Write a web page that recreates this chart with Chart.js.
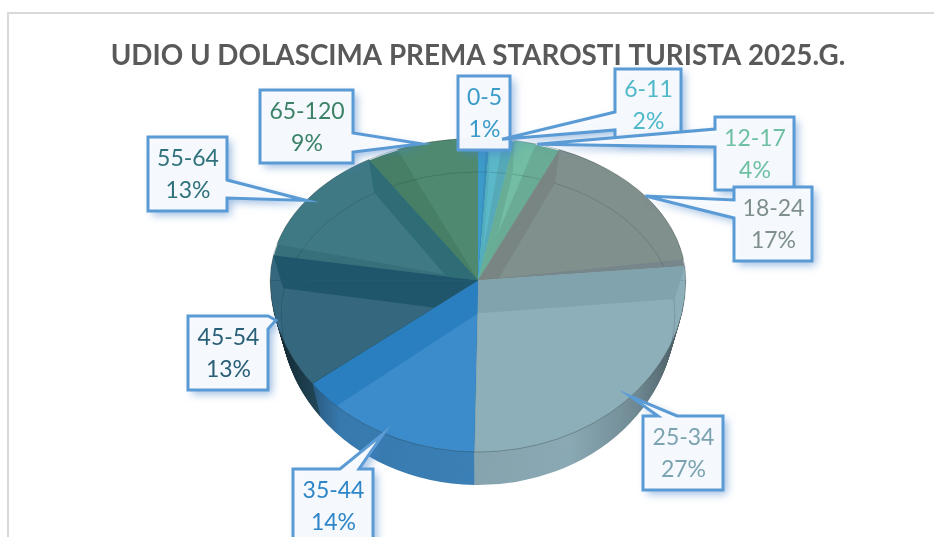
<!DOCTYPE html>
<html>
<head>
<meta charset="utf-8">
<style>
  html, body { margin: 0; padding: 0; background: #fff; overflow: hidden; }
  #frame { position: absolute; left: 7px; top: 12px; width: 927px; height: 525px; border-left: 2px solid #d9d9d9; border-top: 2px solid #d9d9d9; box-sizing: border-box; }
  #wrap { position: absolute; left: 0; top: 0; width: 934px; height: 537px; }
</style>
</head>
<body>
<div id="frame"></div>
<div id="wrap"><canvas id="agePie"></canvas></div>
<script src="https://cdn.jsdelivr.net/npm/chart.js@4/dist/chart.umd.min.js"></script>
<script>
const titleText = 'UDIO U DOLASCIMA PREMA STAROSTI TURISTA 2025.G.';
const ageGroups = ['0-5', '6-11', '12-17', '18-24', '25-34', '35-44', '45-54', '55-64', '65-120'];
const shares = [0.9, 1.9, 3.6, 17.0, 26.9, 14.4, 13.1, 13.4, 8.8];

// slice styles
const faceColors = ['#3d9bc9', '#5bb8c8', '#72bda4', '#80908c', '#8dafba', '#3c8ccb', '#35687e', '#3f7a84', '#4f8a70'];
const wallColors = ['#3592c0', '#52adbd', '#68ad96', '#798582', '#80a3ae', '#2a7fc0', '#1f566c', '#2e6c76', '#488067'];
const sideColors = ['#3a8fbb', '#55a9b8', '#6aab95', '#76868a', '#8aa9b4', '#3d84bc', '#2f6078', '#37707a', '#477e66'];
const textColors = ['#3a9bc9', '#4fb8c9', '#6fc0a3', '#7f8f8e', '#7ba3b0', '#2e86c8', '#2a5f78', '#2f727c', '#3b8266'];

// callout boxes: x, y, w, h, side the pointer leaves from, and where on that side it starts/ends
const callouts = [
  { x: 458, y: 76, w: 52, h: 74 },
  { x: 615, y: 69, w: 66, h: 72, side: 'left', a: 112, b: 130 },
  { x: 715, y: 117, w: 79, h: 73, side: 'left', a: 129, b: 147 },
  { x: 734, y: 187, w: 78, h: 74, side: 'left', a: 200, b: 218 },
  { x: 643, y: 416, w: 80, h: 74, side: 'top', a: 658, b: 677 },
  { x: 293, y: 469, w: 80, h: 74, side: 'top', a: 340, b: 359 },
  { x: 188, y: 316, w: 80, h: 74, side: 'right', a: 316, b: 329 },
  { x: 148, y: 137, w: 79, h: 74, side: 'right', a: 180, b: 198 },
  { x: 260, y: 90, w: 93, h: 73, side: 'right', a: 133, b: 152 }
];

const DEPTH = 33;
const SQUASH_BACK = 142 / 208;
const SQUASH_FRONT = 172 / 208;
const FLOOR_SCALE = 198 / 208;

function narrowAt(depth) {
  return 1 - (1 - FLOOR_SCALE) * depth / DEPTH;
}

// the pie is tilted: back half is flatter than the front half (fake perspective)
function eachHalf(ctx, chart, cx, cy, depth, fn) {
  const nx = narrowAt(depth);
  [[-1, SQUASH_BACK], [1, SQUASH_FRONT]].forEach(([dir, squash]) => {
    ctx.save();
    ctx.beginPath();
    if (dir < 0) ctx.rect(0, 0, chart.width, cy + depth);
    else ctx.rect(0, cy + depth, chart.width, chart.height);
    ctx.clip();
    ctx.translate(cx, cy + depth);
    ctx.scale(nx, squash);
    ctx.translate(-cx, -cy);
    fn();
    ctx.restore();
  });
}

function rimPoint(el, angle, depth) {
  const sin = Math.sin(angle);
  const nx = narrowAt(depth);
  return {
    x: el.x + Math.cos(angle) * el.outerRadius * nx,
    y: el.y + depth + sin * el.outerRadius * (sin < 0 ? SQUASH_BACK : SQUASH_FRONT)
  };
}

function paintArc(ctx, el, color) {
  const opts = el.options;
  el.options = Object.assign({}, opts, { backgroundColor: color, borderWidth: 0 });
  el.draw(ctx);
  el.options = opts;
}

// inner wall along one radial edge, seen through the glass top
function paintWall(ctx, el, angle, color) {
  const top = rimPoint(el, angle, 0);
  const low = rimPoint(el, angle, DEPTH);
  ctx.beginPath();
  ctx.moveTo(el.x, el.y);
  ctx.lineTo(top.x, top.y);
  ctx.lineTo(low.x, low.y);
  ctx.lineTo(el.x, el.y + DEPTH);
  ctx.closePath();
  ctx.fillStyle = color;
  ctx.fill();
}

const pie3d = {
  id: 'pie3d',
  beforeDatasetDraw(chart, args) {
    const ctx = chart.ctx;
    const arcs = args.meta.data;
    const cx = arcs[0].x, cy = arcs[0].y, R = arcs[0].outerRadius;

    // side wall
    for (let d = DEPTH; d > 0; d--) {
      eachHalf(ctx, chart, cx, cy, d, () => arcs.forEach((el, i) => paintArc(ctx, el, sideColors[i])));
    }
    ctx.save();
    ctx.globalCompositeOperation = 'source-atop';
    const shade = ctx.createLinearGradient(cx - R, 0, cx + R, 0);
    shade.addColorStop(0, 'rgba(0,0,0,0.65)');
    shade.addColorStop(0.17, 'rgba(0,0,0,0.08)');
    shade.addColorStop(0.72, 'rgba(0,0,0,0)');
    shade.addColorStop(0.88, 'rgba(0,0,0,0.18)');
    shade.addColorStop(1, 'rgba(0,0,0,0.5)');
    ctx.fillStyle = shade;
    ctx.fillRect(cx - R - 2, cy, 2 * R + 4, R);
    ctx.restore();

    // top face, with the walls and floor edge showing through it
    arcs.forEach((el, i) => {
      eachHalf(ctx, chart, cx, cy, 0, () => {
        ctx.beginPath();
        ctx.moveTo(cx, cy);
        ctx.arc(cx, cy, R, el.startAngle, el.endAngle);
        ctx.closePath();
        ctx.clip();
        ctx.save();
        ctx.setTransform(1, 0, 0, 1, 0, 0);
        paintArc(ctx, el, faceColors[i]);
        paintWall(ctx, el, el.startAngle, wallColors[i]);
        paintWall(ctx, el, el.endAngle, wallColors[i]);
        eachHalf(ctx, chart, cx, cy, DEPTH, () => {
          ctx.beginPath();
          ctx.arc(cx, cy, R - 1, el.startAngle, el.endAngle);
          ctx.strokeStyle = 'rgba(0,0,0,0.16)';
          ctx.lineWidth = 1;
          ctx.stroke();
        });
        ctx.restore();
      });
    });

    // rim
    eachHalf(ctx, chart, cx, cy, 0, () => {
      ctx.beginPath();
      ctx.arc(cx, cy, R, 0, Math.PI * 2);
      ctx.strokeStyle = 'rgba(40,50,50,0.35)';
      ctx.lineWidth = 1;
      ctx.stroke();
    });
    return false;
  },
  afterDatasetsDraw(chart) {
    const ctx = chart.ctx;
    const arcs = chart.getDatasetMeta(0).data;
    arcs.forEach((el, i) => {
      const box = callouts[i];
      const tip = rimPoint(el, (el.startAngle + el.endAngle) / 2, 0);

      ctx.save();
      ctx.beginPath();
      ctx.moveTo(box.x, box.y);
      if (box.side === 'top') { ctx.lineTo(box.a, box.y); ctx.lineTo(tip.x, tip.y); ctx.lineTo(box.b, box.y); }
      ctx.lineTo(box.x + box.w, box.y);
      if (box.side === 'right') { ctx.lineTo(box.x + box.w, box.a); ctx.lineTo(tip.x, tip.y); ctx.lineTo(box.x + box.w, box.b); }
      ctx.lineTo(box.x + box.w, box.y + box.h);
      ctx.lineTo(box.x, box.y + box.h);
      if (box.side === 'left') { ctx.lineTo(box.x, box.b); ctx.lineTo(tip.x, tip.y); ctx.lineTo(box.x, box.a); }
      ctx.closePath();
      ctx.shadowColor = 'rgba(70,130,200,0.55)';
      ctx.shadowBlur = 9;
      ctx.shadowOffsetX = 4;
      ctx.shadowOffsetY = 4;
      ctx.fillStyle = 'rgba(248,250,254,0.97)';
      ctx.fill();
      ctx.shadowColor = 'transparent';
      ctx.strokeStyle = '#5b9bd5';
      ctx.lineWidth = 3;
      ctx.lineJoin = 'miter';
      ctx.stroke();

      ctx.fillStyle = textColors[i];
      ctx.font = '23px Lato';
      ctx.textAlign = 'center';
      ctx.textBaseline = 'middle';
      const tx = box.x + box.w / 2 + 0.5;
      const ty = box.y + box.h / 2;
      ctx.fillText(ageGroups[i], tx, ty - 15);
      ctx.fillText(Math.round(shares[i]) + '%', tx, ty + 17);
      ctx.restore();
    });
  }
};

new Chart(document.getElementById('agePie').getContext('2d'), {
  type: 'pie',
  data: {
    labels: ageGroups,
    datasets: [{
      data: shares,
      backgroundColor: faceColors,
      borderWidth: 0
    }]
  },
  options: {
    responsive: true,
    maintainAspectRatio: false,
    animation: false,
    events: [],
    layout: { padding: { left: 22, top: 38, bottom: 49 } },
    plugins: {
      legend: { display: false },
      tooltip: { enabled: false },
      title: {
        display: true,
        text: titleText,
        color: '#595959',
        font: { family: 'Lato', size: 27.8, weight: 'bold' },
        padding: { top: 1, bottom: 0 }
      }
    }
  },
  plugins: [pie3d]
});
</script>
</body>
</html>
